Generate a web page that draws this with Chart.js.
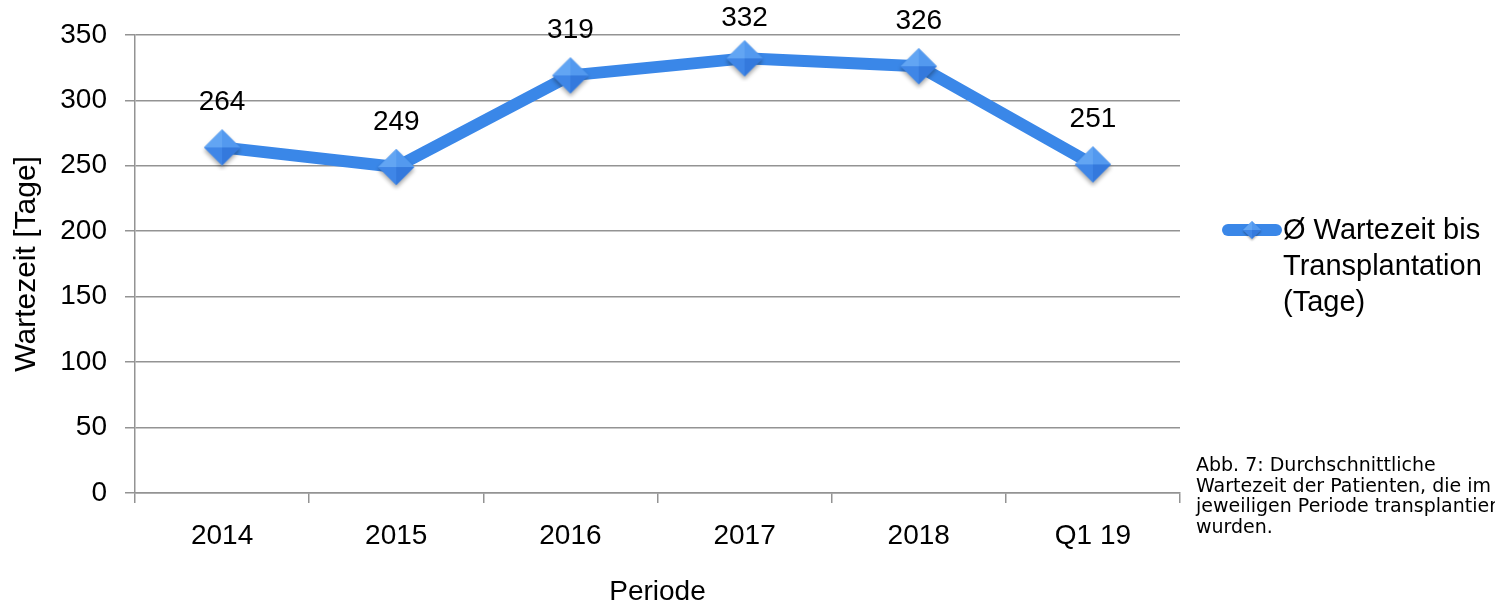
<!DOCTYPE html>
<html>
<head>
<meta charset="utf-8">
<script src="https://cdn.jsdelivr.net/npm/chart.js@4.4.1/dist/chart.umd.min.js"></script>
<style>
  html, body { margin: 0; padding: 0; background: #fff; overflow: hidden; }
  canvas { display: block; }
</style>
</head>
<body>
<canvas id="myChart" width="1495" height="606"></canvas>
<script>
// data
var periods = ['2014', '2015', '2016', '2017', '2018', 'Q1 19'];
var waitDays = [264, 249, 319, 332, 326, 251];
var seriesLabel = ['Ø Wartezeit bis', 'Transplantation', '(Tage)'];
var yMax = 350;
var yStep = 50;
var captionLines = [
  'Abb. 7: Durchschnittliche',
  'Wartezeit der Patienten, die im',
  'jeweiligen Periode transplantiert',
  'wurden.'
];

var lineColor = '#3a87e8';
var gridColor = '#939393';
var font = 'Liberation Sans';

// diamond marker with a bit of shading
function makeDiamond() {
  var c = document.createElement('canvas');
  c.width = 48; c.height = 48;
  var g = c.getContext('2d');
  var cx = 24, cy = 24, r = 18;
  g.save();
  g.shadowColor = 'rgba(0,0,0,0.35)';
  g.shadowBlur = 4;
  g.shadowOffsetY = 3;
  g.beginPath();
  g.moveTo(cx, cy - r); g.lineTo(cx + r, cy); g.lineTo(cx, cy + r); g.lineTo(cx - r, cy);
  g.closePath();
  g.fillStyle = '#4a90ec';
  g.fill();
  g.restore();
  var tri = function (pts, col) {
    g.beginPath();
    g.moveTo(pts[0], pts[1]); g.lineTo(pts[2], pts[3]); g.lineTo(pts[4], pts[5]);
    g.closePath();
    g.fillStyle = col;
    g.fill();
  };
  tri([cx, cy - r, cx - r, cy, cx, cy], '#62a5f3');
  tri([cx, cy - r, cx + r, cy, cx, cy], '#5399ef');
  tri([cx - r, cy, cx, cy + r, cx, cy], '#3f86e7');
  tri([cx + r, cy, cx, cy + r, cx, cy], '#3479dd');
  return c;
}
var diamond = makeDiamond();

var extras = {
  id: 'extras',
  afterDatasetsDraw: function (chart) {
    var ctx = chart.ctx;
    var meta = chart.getDatasetMeta(0);
    ctx.save();
    ctx.fillStyle = '#000';
    ctx.font = '28px "' + font + '"';
    ctx.textAlign = 'center';
    ctx.textBaseline = 'middle';
    meta.data.forEach(function (pt, i) {
      // keep the top label inside the picture
      ctx.fillText(waitDays[i], pt.x, Math.max(pt.y - 45, 18));
    });
    ctx.restore();
  },
  afterDraw: function (chart) {
    var ctx = chart.ctx;
    ctx.save();
    // legend
    ctx.strokeStyle = lineColor;
    ctx.lineWidth = 12;
    ctx.lineCap = 'round';
    ctx.beginPath();
    ctx.moveTo(1228, 230);
    ctx.lineTo(1276, 230);
    ctx.stroke();
    ctx.drawImage(diamond, 1252 - 12, 230 - 12, 24, 24);
    ctx.fillStyle = '#000';
    ctx.font = '29px "' + font + '"';
    ctx.textAlign = 'left';
    ctx.textBaseline = 'middle';
    seriesLabel.forEach(function (t, i) {
      ctx.fillText(t, 1283, 231 + i * 36);
    });
    // caption
    ctx.font = '19px "DejaVu Sans"';
    captionLines.forEach(function (t, i) {
      ctx.fillText(t, 1196, 466 + i * 20.7);
    });
    ctx.restore();
  }
};

var ctx = document.getElementById('myChart').getContext('2d');
var myChart = new Chart(ctx, {
  type: 'line',
  data: {
    labels: periods,
    datasets: [{
      label: seriesLabel.join(' '),
      data: waitDays,
      borderColor: lineColor,
      borderWidth: 12,
      borderCapStyle: 'round',
      borderJoinStyle: 'round',
      tension: 0,
      pointStyle: diamond,
      pointRadius: 18,
      pointHoverRadius: 18
    }]
  },
  options: {
    responsive: false,
    animation: false,
    events: [],
    layout: { padding: { top: 33, right: 315, left: 0, bottom: 0 } },
    plugins: {
      legend: { display: false },
      tooltip: { enabled: false }
    },
    scales: {
      x: {
        offset: true,
        grid: { offset: true, drawOnChartArea: false, color: gridColor, lineWidth: 1.5, tickLength: 10 },
        border: { color: gridColor, width: 1.5 },
        ticks: { color: '#000', font: { family: font, size: 28 }, padding: 16, maxRotation: 0 },
        title: { display: true, text: 'Periode', color: '#000', font: { family: font, size: 28, lineHeight: 1 }, padding: { top: 0, bottom: 0 } },
        afterFit: function (s) { s.height = 113; }
      },
      y: {
        min: 0,
        max: yMax,
        ticks: { stepSize: yStep, color: '#000', font: { family: font, size: 28 }, padding: 18 },
        grid: { color: gridColor, lineWidth: 1.5, tickLength: 10 },
        border: { color: gridColor, width: 1.5 },
        title: { display: true, text: 'Wartezeit [Tage]', color: '#000', font: { family: font, size: 30, lineHeight: 1 }, padding: { top: 12, bottom: 0 } },
        afterFit: function (s) { s.width = 135; }
      }
    }
  },
  plugins: [extras]
});
</script>
</body>
</html>
